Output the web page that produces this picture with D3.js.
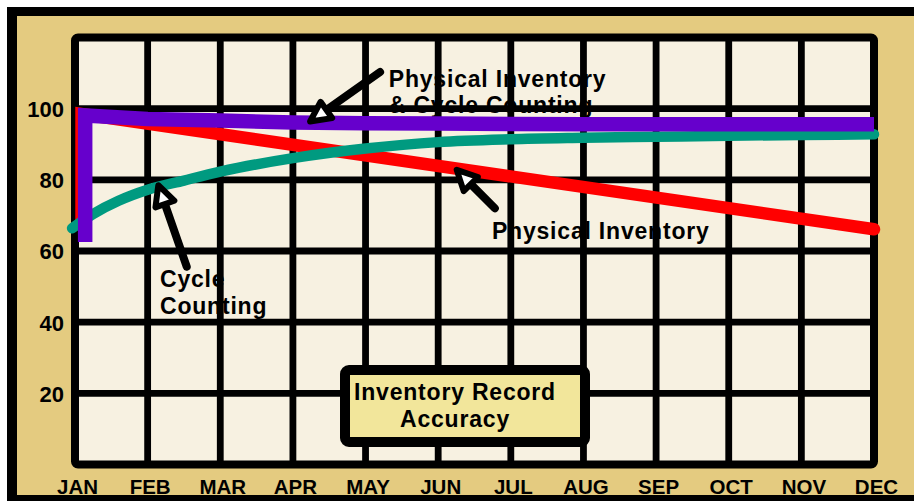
<!DOCTYPE html>
<html>
<head>
<meta charset="utf-8">
<script src="https://cdn.jsdelivr.net/npm/d3@7"></script>
<style>
  body { margin: 0; background: #fff; }
  svg text { font-family: "Liberation Sans", Arial, sans-serif; font-weight: bold; fill: #000; }
</style>
</head>
<body>
<div id="chart"></div>
<script>
// month labels along the bottom
const months = ["JAN", "FEB", "MAR", "APR", "MAY", "JUN", "JUL", "AUG", "SEP", "OCT", "NOV", "DEC"];
const yTicks = [20, 40, 60, 80, 100];

// [month index, accuracy %]
const physicalInv = [[0.09, 67.8], [0.09, 98.5], [11, 66.1]];
const cycleCount = [[-0.04, 66.4], [0.25, 70.4], [0.6, 74.1], [1, 77.2], [1.5, 79.8], [2, 82.3], [3, 86.1],
                    [4, 88.8], [5, 90.6], [6, 91.4], [7, 91.8], [8, 92.1], [9, 92.4], [10, 92.6], [11, 92.8]];
const both = [[0.14, 62.5], [0.14, 98.1], [1, 97.1], [2, 96.7], [3, 96.1], [4, 95.9], [5, 95.8],
              [6, 95.7], [7, 95.6], [8, 95.6], [9, 95.6], [10, 95.6], [11, 95.6]];

const W = 914, H = 501;

let svg = d3.select("#chart").append("svg")
    .attr("width", W)
    .attr("height", H);

// frame
svg.append("rect").attr("x", 7).attr("y", 7).attr("width", 940).attr("height", 520).attr("fill", "#000");
svg.append("rect").attr("x", 17).attr("y", 16).attr("width", 930).attr("height", 479).attr("fill", "#E4CB80");

let x = d3.scaleLinear().domain([0, 11]).range([75, 874]);
let y = d3.scaleLinear().domain([0, 120]).range([464.5, 37.5]);

// plot background
svg.append("rect")
    .attr("x", x(0)).attr("y", y(120))
    .attr("width", x(11) - x(0)).attr("height", y(0) - y(120))
    .attr("fill", "#F7F1E1");

// grid
let grid = svg.append("g").attr("stroke", "#000").attr("stroke-width", 6.8);
grid.selectAll(".v").data(d3.range(1, 11)).enter().append("line")
    .attr("x1", d => x(d)).attr("x2", d => x(d))
    .attr("y1", y(120)).attr("y2", y(0));
grid.selectAll(".h").data(d3.range(20, 120, 20)).enter().append("line")
    .attr("x1", x(0)).attr("x2", x(11))
    .attr("y1", d => y(d)).attr("y2", d => y(d));

svg.append("rect")
    .attr("x", x(0)).attr("y", y(120))
    .attr("width", x(11) - x(0)).attr("height", y(0) - y(120))
    .attr("rx", 3)
    .attr("fill", "none").attr("stroke", "#000").attr("stroke-width", 8);

// axes
let xAxis = svg.append("g")
    .attr("transform", "translate(2,494)")
    .call(d3.axisBottom(x).tickValues(d3.range(12)).tickFormat(i => months[i]).tickSize(0).tickPadding(0));
xAxis.select(".domain").remove();
xAxis.selectAll("text").attr("dy", 0).attr("y", 0)
    .style("font-size", "20.5px").attr("fill", "#000");

let yAxis = svg.append("g")
    .attr("transform", "translate(64,0)")
    .call(d3.axisLeft(y).tickValues(yTicks).tickSize(0).tickPadding(0));
yAxis.select(".domain").remove();
yAxis.selectAll("text").style("font-size", "22px").attr("dy", "0.36em").attr("fill", "#000");

// annotation text (sits under the lines)
function label(lines, mx, v0, step) {
    let t = svg.append("text").style("font-size", "23px").style("letter-spacing", "0.8px");
    lines.forEach((s, i) => {
        t.append("tspan").attr("x", x(mx)).attr("y", y(v0) + i * step).text(s);
    });
}
label(["Physical Inventory", "& Cycle Counting"], 4.32, 106.1, 26);
label(["Physical Inventory"], 5.74, 63.4, 0);
label(["Cycle", "Counting"], 1.17, 49.9, 27);

// lines
let line = d3.line().x(d => x(d[0])).y(d => y(d[1]));
let smooth = d3.line().x(d => x(d[0])).y(d => y(d[1])).curve(d3.curveMonotoneX);

svg.append("path").datum(physicalInv)
    .attr("d", line).attr("fill", "none")
    .attr("stroke", "#FF0000").attr("stroke-width", 12.5)
    .attr("stroke-linejoin", "miter").attr("stroke-linecap", "round");

svg.append("path").datum(cycleCount)
    .attr("d", smooth).attr("fill", "none")
    .attr("stroke", "#009A80").attr("stroke-width", 10.5)
    .attr("stroke-linecap", "round");

svg.append("path").datum(both)
    .attr("d", line).attr("fill", "none")
    .attr("stroke", "#6600CC").attr("stroke-width", 14.5)
    .attr("stroke-linejoin", "miter").attr("stroke-linecap", "butt");

// arrows
function arrow(m1, v1, m2, v2) {
    let x1 = x(m1), y1 = y(v1), x2 = x(m2), y2 = y(v2);
    let a = Math.atan2(y2 - y1, x2 - x1);
    let len = 20, hw = 10;
    let bx = x2 - len * Math.cos(a), by = y2 - len * Math.sin(a);
    let px = -Math.sin(a) * hw, py = Math.cos(a) * hw;
    svg.append("line")
        .attr("x1", x1).attr("y1", y1).attr("x2", bx).attr("y2", by)
        .attr("stroke", "#000").attr("stroke-width", 8).attr("stroke-linecap", "round");
    svg.append("path")
        .attr("d", `M${x2},${y2}L${bx + px},${by + py}L${bx - px},${by - py}Z`)
        .attr("fill", "#fff").attr("stroke", "#000").attr("stroke-width", 6)
        .attr("stroke-linejoin", "round");
}
arrow(4.20, 110.3, 3.236, 96.4);
arrow(5.78, 72.0, 5.255, 82.8);
arrow(1.538, 55.6, 1.147, 78.5);

// title box
svg.append("rect")
    .attr("x", 345).attr("y", 370).attr("width", 240).attr("height", 72).attr("rx", 4)
    .attr("fill", "#F2E69B").attr("stroke", "#000").attr("stroke-width", 10);
let title = svg.append("text").attr("text-anchor", "middle")
    .style("font-size", "23px").style("letter-spacing", "0.8px");
title.append("tspan").attr("x", 455).attr("y", 400).text("Inventory Record");
title.append("tspan").attr("x", 455).attr("y", 427).text("Accuracy");
</script>
</body>
</html>
